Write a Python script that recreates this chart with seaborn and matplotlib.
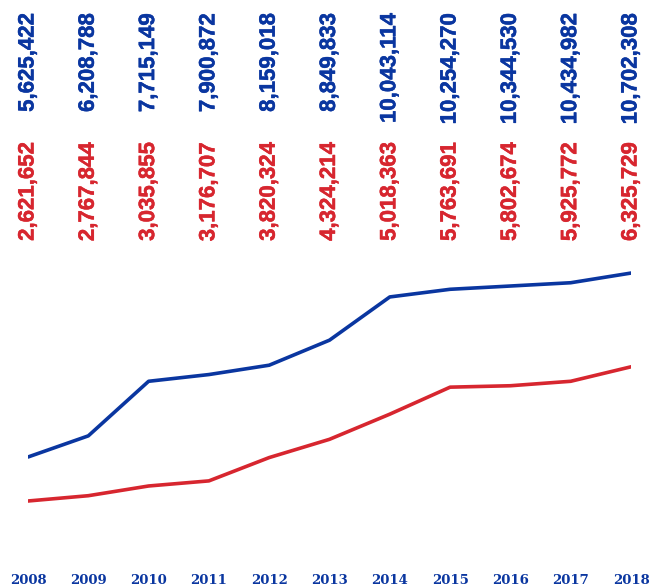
import matplotlib
matplotlib.use("Agg")
import matplotlib.pyplot as plt
import matplotlib.transforms as mtransforms
import matplotlib.patheffects as pe
import seaborn as sns
import pandas as pd

years = [2008, 2009, 2010, 2011, 2012, 2013, 2014, 2015, 2016, 2017, 2018]
total = [5625422, 6208788, 7715149, 7900872, 8159018, 8849833,
         10043114, 10254270, 10344530, 10434982, 10702308]
subset = [2621652, 2767844, 3035855, 3176707, 3820324, 4324214,
          5018363, 5763691, 5802674, 5925772, 6325729]

BLUE = "#0a36a0"
RED = "#d7262f"

sns.set_theme(style="white")

W, H = 651, 587
fig = plt.figure(figsize=(W / 100, H / 100), dpi=100)
fig.patch.set_facecolor("white")

# plot band in pixel terms
left_px, right_px = 28, 631
top_px, bottom_px = 250, 540
ax = fig.add_axes([left_px / W, 1 - bottom_px / H,
                   (right_px - left_px) / W, (bottom_px - top_px) / H])
ax2 = ax.twinx()

df = pd.DataFrame({"year": years, "total": total, "subset": subset})
sns.lineplot(data=df, x="year", y="total", ax=ax, color=BLUE, linewidth=2.6)
sns.lineplot(data=df, x="year", y="subset", ax=ax2, color=RED, linewidth=2.6)

# both series share the same units-per-pixel, offset independently
span = 8004000
ax.set_ylim(3334622, 3334622 + span)
ax2.set_ylim(1545252, 1545252 + span)
ax.set_xlim(years[0], years[-1])

for a in (ax, ax2):
    a.set_axis_off()

# value labels along the top
trans = mtransforms.blended_transform_factory(ax.transData, fig.transFigure)
label_kw = dict(transform=trans, rotation=90, ha="center", va="top",
                fontsize=16, fontweight="bold", family=["Liberation Sans"])
for yr, b, r in zip(years, total, subset):
    fig.text(yr, 1 - 13 / H, f"{b:,}", color=BLUE,
             path_effects=[pe.withStroke(linewidth=0.35, foreground=BLUE)],
             **label_kw)
    fig.text(yr, 1 - 142 / H, f"{r:,}", color=RED,
             path_effects=[pe.withStroke(linewidth=0.35, foreground=RED)],
             **label_kw)
    fig.text(yr, 1 - 581 / H, str(yr), transform=trans,
             ha="center", va="center", color=BLUE, fontsize=9.5,
             fontweight="bold", family=["DejaVu Serif"])

fig.savefig("out.png", dpi=100, facecolor="white")
